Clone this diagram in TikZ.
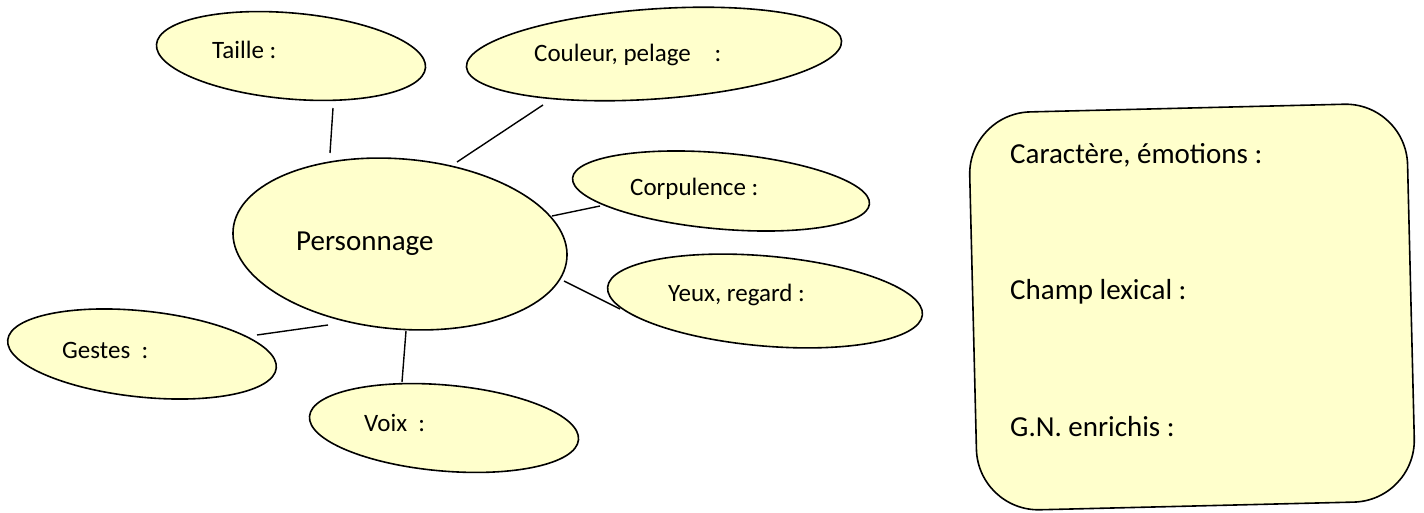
\documentclass[tikz,border=0pt]{standalone}
\usepackage{fontspec}
\setmainfont{Carlito}
\usetikzlibrary{shapes.geometric}
\definecolor{paleyellow}{HTML}{FFFFCC}
\pgfdeclarelayer{background}
\pgfsetlayers{background,main}
\tikzset{
  bubble/.style={ellipse, draw=black, line width=1.6pt, fill=paleyellow, inner sep=0pt},
  lbl/.style={anchor=west, inner sep=0pt, font=\fontsize{25}{30}\selectfont},
  biglbl/.style={anchor=west, inner sep=0pt, font=\fontsize{29}{34}\selectfont},
  link/.style={draw=black, line width=1.4pt},
  panel/.style={rectangle, draw=black, line width=1.6pt, fill=paleyellow, rounded corners=62pt, inner sep=0pt}
}
\begin{document}
\begin{tikzpicture}[x=1pt,y=-1pt]
\useasboundingbox (0,0) rectangle (1424,513);
% ellipses
\node[bubble, minimum width=270pt, minimum height=86pt, rotate=-5] (taille) at (291,56) {};
\node[bubble, minimum width=376pt, minimum height=90pt, rotate=4] (couleur) at (654,54) {};
\node[bubble, minimum width=298pt, minimum height=76pt, rotate=-5] (corp) at (721,191) {};
\node[bubble, minimum width=316pt, minimum height=90pt, rotate=-5] (yeux) at (765,301) {};
\node[bubble, minimum width=270pt, minimum height=86pt, rotate=-6] (gestes) at (142,354) {};
\node[bubble, minimum width=270pt, minimum height=86pt, rotate=-5] (voix) at (444,428) {};
\node[bubble, minimum width=335pt, minimum height=170pt, rotate=-5] (pers) at (400,244) {};
% panel
\node[panel, minimum width=438pt, minimum height=398pt, rotate=1.4] (box) at (1192,307) {};
% labels
\node[lbl] (ttaille) at (212,50) {Taille :};
\node[lbl] (tcouleur) at (534,55) {Couleur, pelage\hspace{0.95em}:};
\node[lbl] (tcorp) at (630,189) {Corpulence :};
\node[lbl] (tyeux) at (668,295) {Yeux, regard :};
\node[lbl] (tgestes) at (62,350) {Gestes\ \ :};
\node[lbl] (tvoix) at (364,423) {Voix\ \ :};
\node[biglbl] (tpers) at (296,244) {Personnage};
\node[biglbl] (tcar) at (1010,155) {Caractère, émotions :};
\node[biglbl] (tchamp) at (1010,292) {Champ lexical :};
\node[biglbl] (tgn) at (1010,427) {G.N. enrichis :};
% connector ends
\coordinate (a1) at (333,108); \coordinate (a2) at (330,153);
\coordinate (b1) at (543,105); \coordinate (b2) at (457,162);
\coordinate (c1) at (600,206); \coordinate (c2) at (552,216);
\coordinate (d1) at (564,281); \coordinate (d2) at (620,309);
\coordinate (e1) at (328,325); \coordinate (e2) at (257,335);
\coordinate (f1) at (406,331); \coordinate (f2) at (402,382);
\begin{pgfonlayer}{background}
\draw[link] (a1) -- (a2);
\draw[link] (b1) -- (b2);
\draw[link] (c1) -- (c2);
\draw[link] (d1) -- (d2);
\draw[link] (e1) -- (e2);
\draw[link] (f1) -- (f2);
\end{pgfonlayer}
\end{tikzpicture}
\end{document}
